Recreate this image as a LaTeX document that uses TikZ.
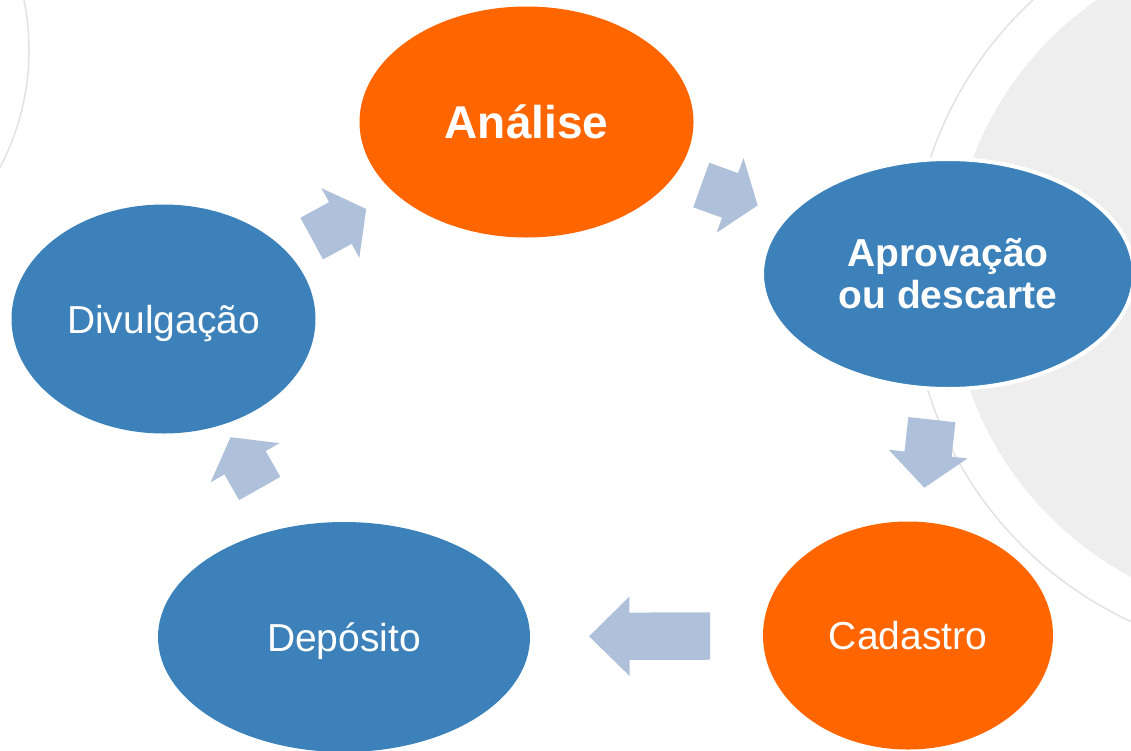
\documentclass[tikz,border=0pt]{standalone}
\usepackage{fontspec}
\setmainfont{Liberation Sans}
\usetikzlibrary{
	shapes.geometric,
	shapes.arrows
}
\definecolor{stageorange}{HTML}{FF6600}
\definecolor{stageblue}{HTML}{3C81BA}
\definecolor{arrowblue}{HTML}{AFC1DA}
\definecolor{ringgray}{HTML}{EEEEEE}
\definecolor{ringline}{HTML}{E2E2E2}
\tikzset{
	stage/.style={
		ellipse,
		inner sep=0pt,
		text=white,
		font=\fontsize{39}{42}\selectfont
	},
	one line/.style={
		text height=28pt,
		text depth=0pt
	},
	cycle arrow/.style={
		single arrow,
		fill=arrowblue,
		inner xsep=0pt,
		inner ysep=23.5pt,
		single arrow head extend=16pt,
		single arrow tip angle=107,
		minimum height=60pt,
		anchor=tip,
		sloped,
		allow upside down
	}
}

\begin{document}
\begin{tikzpicture}[x=1pt,y=-1pt]
	\useasboundingbox (0,0) rectangle (1131,750);
	\clip (0,0) rectangle (1131,750);
	%%%%%%%% FUNDO
	\fill[ringgray] (1289,278) circle[radius=338];
	\draw[ringline, line width=1.5pt] (1289,278) circle[radius=378];
	\draw[ringline, line width=1.5pt] (-222,50) circle[radius=251];
	%%%%%%%% ETAPAS
	\node[stage, one line, fill=stageorange, minimum width=334pt, minimum height=231pt,
		font=\fontsize{46}{50}\selectfont\bfseries, text height=33pt] (analise) at (526.5,122) {Análise};
	\node[stage, fill=stageblue, draw=white, line width=4pt, minimum width=372pt, minimum height=230pt,
		font=\fontsize{39}{42}\selectfont\bfseries, align=center] (aprovacao) at (948,274) {Aprovação\\ou descarte};
	\node[stage, one line, fill=stageorange, minimum width=290pt, minimum height=228pt] (cadastro) at (908,635.5) {Cadastro};
	\node[stage, one line, fill=stageblue, minimum width=372pt, minimum height=230pt] (deposito) at (344,637) {Depósito};
	\node[stage, one line, fill=stageblue, minimum width=304pt, minimum height=229pt] (divulgacao) at (163.5,319) {Divulgação};
	%%%%%%%% SETAS
	\path (analise.center) -- node[cycle arrow, pos=.549] (setaA) {} (aprovacao.center);
	\path (aprovacao.center) -- node[cycle arrow, pos=.592, minimum height=68.5pt, single arrow tip angle=99] (setaB) {} (cadastro.center);
	\path (cadastro.center) -- node[cycle arrow, pos=.566, minimum height=121pt, single arrow tip angle=89] (setaC) {} (deposito.center);
	\path (deposito.center) -- node[cycle arrow, pos=.629, minimum height=59pt] (setaD) {} (divulgacao.center);
	\path (divulgacao.center) -- node[cycle arrow, pos=.559, minimum height=62pt] (setaE) {} (analise.center);
\end{tikzpicture}
\end{document}
